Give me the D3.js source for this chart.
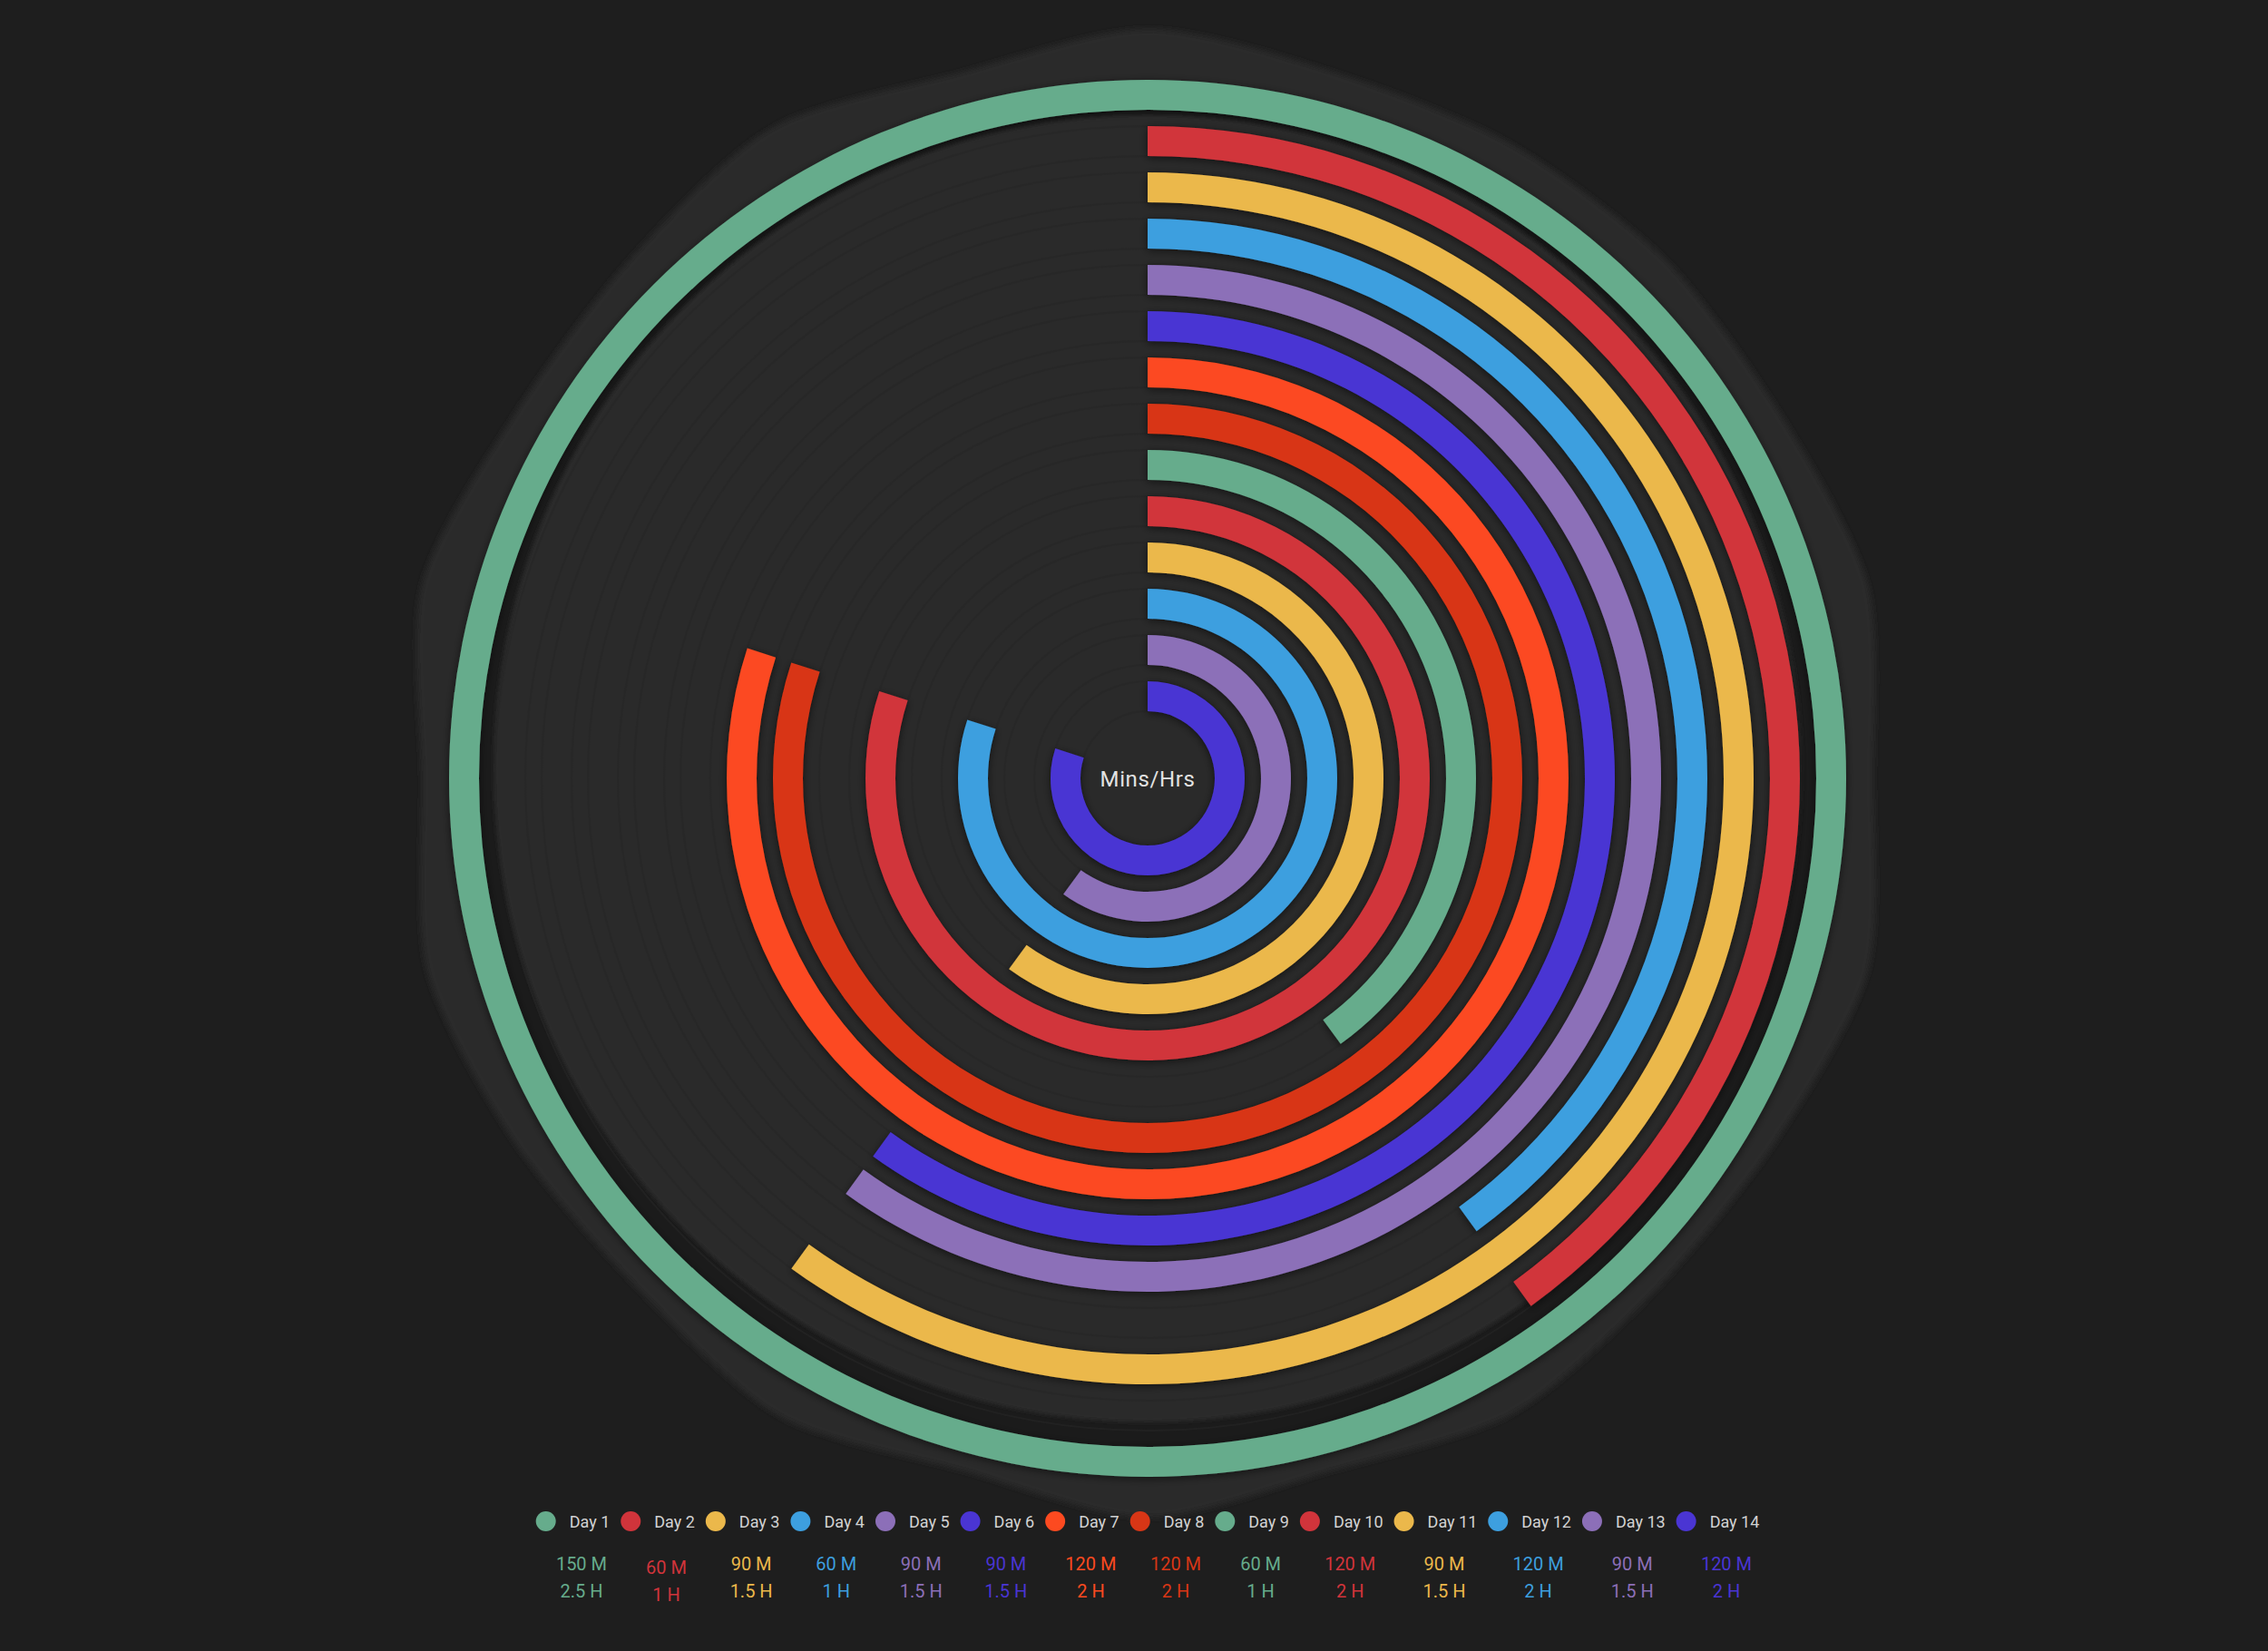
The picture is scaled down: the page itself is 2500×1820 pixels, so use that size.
<!DOCTYPE html>
<html>
<head>
<meta charset="utf-8">
<script src="https://cdn.jsdelivr.net/npm/d3@7/dist/d3.min.js"></script>
<style>
  html, body { margin: 0; background: #1e1e1e; }
  svg { display: block; font-family: Roboto, "Noto Sans", sans-serif; }
</style>
</head>
<body>
<svg id="chart" width="2500" height="1820"></svg>
<script>
  var width = 2500, height = 1820
  var cx = 1265, cy = 858

  var days = ["Day 1", "Day 2", "Day 3", "Day 4", "Day 5", "Day 6", "Day 7",
              "Day 8", "Day 9", "Day 10", "Day 11", "Day 12", "Day 13", "Day 14"]
  var minutes = [150, 60, 90, 60, 90, 90, 120, 120, 60, 120, 90, 120, 90, 120]
  var hours = ["2.5 H", "1 H", "1.5 H", "1 H", "1.5 H", "1.5 H", "2 H",
               "2 H", "1 H", "2 H", "1.5 H", "2 H", "1.5 H", "2 H"]
  var colors = ["#66ac8c", "#d1343b", "#ebb84b", "#3d9fdf", "#8c6fb8", "#4a35d3", "#fc4a20",
                "#d83616", "#66ac8c", "#d1343b", "#ebb84b", "#3d9fdf", "#8c6fb8", "#4a35d3"]
  var maxMinutes = 150
  var centerLabel = "Mins/Hrs"

  // rough outline of the grey halo behind the dial (one radius every 15 deg, from the top)
  var haloRadii = [826, 805, 806, 808, 805, 822, 800, 822, 800, 795, 808, 790,
                   815, 790, 812, 795, 805, 822, 800, 828, 805, 808, 828, 805]

  var svg = d3.select("#chart")
  var defs = svg.append("defs")

  defs.append("filter").attr("id", "haloBlur")
    .attr("x", "-10%").attr("y", "-10%").attr("width", "120%").attr("height", "120%")
    .append("feGaussianBlur").attr("stdDeviation", 3)

  defs.append("filter").attr("id", "softEdge")
    .append("feGaussianBlur").attr("stdDeviation", 2)

  defs.append("filter").attr("id", "barShadow")
    .attr("x", "-20%").attr("y", "-20%").attr("width", "140%").attr("height", "140%")
    .append("feDropShadow")
    .attr("dx", 0).attr("dy", 2)
    .attr("stdDeviation", 5)
    .attr("flood-color", "#000")
    .attr("flood-opacity", 0.55)

  var g = svg.append("g").attr("transform", "translate(" + cx + "," + cy + ")")

  // halo
  var haloLine = d3.lineRadial()
    .angle(function(d, i) { return i / haloRadii.length * 2 * Math.PI })
    .radius(function(d) { return d })
    .curve(d3.curveCardinalClosed.tension(0.2))

  g.append("path")
    .attr("d", haloLine(haloRadii))
    .attr("fill", "#2b2b2b")
    .attr("filter", "url(#haloBlur)")

  // scales, Day 1 on the outside
  var angle = d3.scaleLinear().domain([0, maxMinutes]).range([0, 2 * Math.PI])
  var radius = d3.scaleBand()
    .domain(days)
    .range([770, 74])
    .paddingInner(0.353)
    .paddingOuter(0)

  // dark rim + dial face
  g.append("circle").attr("r", radius("Day 1")).attr("fill", "#1b1b1b")
  g.append("circle")
    .attr("cy", -11)
    .attr("r", 721)
    .attr("fill", "#2c2c2c")
    .attr("filter", "url(#softEdge)")

  // tracks
  var trackArc = d3.arc()
    .innerRadius(function(d) { return radius(d) })
    .outerRadius(function(d) { return radius(d) + radius.bandwidth() })
    .startAngle(0)
    .endAngle(2 * Math.PI)

  g.selectAll(".track")
    .data(days.slice(1))
    .enter()
    .append("path")
    .attr("class", "track")
    .attr("d", trackArc)
    .attr("fill", "none")
    .attr("stroke", "#262626")
    .attr("stroke-width", 2)
    .attr("stroke-opacity", 0.6)

  // bars
  var barArc = d3.arc()
    .innerRadius(function(d) { return radius(d.day) })
    .outerRadius(function(d) { return radius(d.day) + radius.bandwidth() })
    .startAngle(0)
    .endAngle(function(d) { return angle(d.value) })

  var rows = days.map(function(d, i) {
    return { day: d, value: minutes[i], hours: hours[i], color: colors[i] }
  })

  g.selectAll(".bar")
    .data(rows)
    .enter()
    .append("path")
    .attr("class", "bar")
    .attr("d", barArc)
    .attr("fill", function(d) { return d.color })
    .attr("filter", "url(#barShadow)")

  g.append("text")
    .attr("text-anchor", "middle")
    .attr("y", 9)
    .attr("fill", "#e2e2e2")
    .attr("font-size", 24)
    .attr("letter-spacing", 0.6)
    .text(centerLabel)

  // legend
  var legend = svg.append("g")
  var markerY = 1677
  var gap = 23
  var items = legend.selectAll(".item")
    .data(rows)
    .enter()
    .append("g")
    .attr("class", "item")

  items.append("circle")
    .attr("r", 11)
    .attr("cy", markerY)
    .attr("fill", function(d) { return d.color })

  var labels = items.append("text")
    .attr("y", markerY + 7)
    .attr("fill", "#d2d2d2")
    .attr("font-size", 18)
    .text(function(d) { return d.day })

  var widths = []
  labels.each(function() { widths.push(this.getComputedTextLength()) })

  var total = 0
  widths.forEach(function(w, i) { total += 26 + w + (i < widths.length - 1 ? gap : 0) })
  total += 11
  var x = cx - total / 2 + 11
  var centers = []
  items.each(function(d, i) {
    var item = d3.select(this)
    item.select("circle").attr("cx", x)
    item.select("text").attr("x", x + 26)
    centers.push(x + 26 + widths[i] / 2)
    x += 26 + widths[i] + gap
  })

  // minute / hour values under each label (Day 2 sits a little lower in the original)
  items.append("text")
    .attr("x", function(d, i) { return centers[i] - 9 })
    .attr("y", function(d, i) { return i === 1 ? 1735 : 1731 })
    .attr("text-anchor", "middle")
    .attr("fill", function(d) { return d.color })
    .attr("font-size", 20)
    .text(function(d) { return d.value + " M" })

  items.append("text")
    .attr("x", function(d, i) { return centers[i] - 9 })
    .attr("y", function(d, i) { return i === 1 ? 1765 : 1761 })
    .attr("text-anchor", "middle")
    .attr("fill", function(d) { return d.color })
    .attr("font-size", 20)
    .text(function(d) { return d.hours })
</script>
</body>
</html>
